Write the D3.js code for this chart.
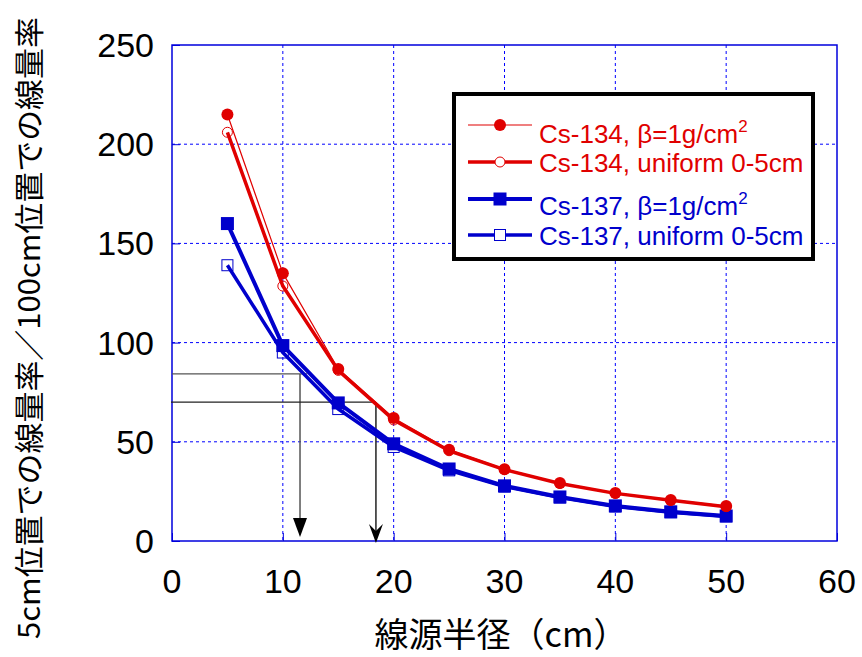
<!DOCTYPE html>
<html><head><meta charset="utf-8">
<script src="https://cdn.jsdelivr.net/npm/d3@7"></script>
<style>body{margin:0;background:#fff}svg{display:block}</style>
</head><body>
<script>
// ---- data ----
const radii = [5, 10, 15, 20, 25, 30, 35, 40, 45, 50];
const cs134Beta    = [215, 135, 86.7, 62, 46, 36.2, 29.2, 24.2, 20.7, 17.6];
const cs134Uniform = [206, 128.5, 86, 61, 45.5, 36, 29, 24, 20.5, 17.3];
const cs137Beta    = [160, 98.5, 69.6, 49, 36.3, 27.8, 22.2, 17.7, 14.7, 12.6];
const cs137Uniform = [139, 95, 66.5, 47.4, 35.6, 27.4, 21.9, 17.4, 14.5, 12.4];
const xTicks = [0, 10, 20, 30, 40, 50, 60];
const yTicks = [0, 50, 100, 150, 200, 250];
const arrowX = [11.55, 18.4];
const arrowY = [84.2, 70];        // ratio levels
const hLineEnd = [12.2, 18.4];
const legendLabels = ["Cs-134, β=1g/cm", "Cs-134, uniform 0-5cm", "Cs-137, β=1g/cm", "Cs-137, uniform 0-5cm"];

const W = 862, H = 657;
const m = {l: 172, t: 45, r: 837, b: 541};
const RED = "#e00000", BLUE = "#0000cc";

const svg = d3.select("body").append("svg").attr("width", W).attr("height", H);
const x = d3.scaleLinear().domain([0, 60]).range([m.l, m.r]);
const y = d3.scaleLinear().domain([0, 250]).range([m.b, m.t]);

// grid
const g = svg.append("g");
g.selectAll(".gx").data(xTicks.slice(1, -1)).join("line")
  .attr("x1", d => x(d)).attr("x2", d => x(d)).attr("y1", m.t).attr("y2", m.b)
  .attr("stroke", "#0000ff").attr("stroke-width", 1).attr("stroke-dasharray", "3,3");
g.selectAll(".gy").data(yTicks.slice(1, -1)).join("line")
  .attr("y1", d => y(d)).attr("y2", d => y(d)).attr("x1", m.l).attr("x2", m.r)
  .attr("stroke", "#0000ff").attr("stroke-width", 1).attr("stroke-dasharray", "3,3");
// frame
svg.append("rect").attr("x", m.l).attr("y", m.t).attr("width", m.r - m.l).attr("height", m.b - m.t)
  .attr("fill", "none").attr("stroke", "#0000dd").attr("stroke-width", 1.5);
// inward ticks
const xAxis = d3.axisBottom(x).tickValues(xTicks).tickSize(-8).tickFormat("");
const xa = svg.append("g").attr("transform", `translate(0,${m.b})`).call(xAxis);
xa.select(".domain").remove(); xa.selectAll("line").attr("stroke", "#0000dd");
const yAxis = d3.axisLeft(y).tickValues(yTicks).tickSize(-8).tickFormat("");
const ya = svg.append("g").attr("transform", `translate(${m.l},0)`).call(yAxis);
ya.select(".domain").remove(); ya.selectAll("line").attr("stroke", "#0000dd");

// tick labels
svg.selectAll(".xl").data(xTicks).join("text")
  .attr("x", d => x(d)).attr("y", 593).attr("text-anchor", "middle")
  .attr("font-family", "Liberation Sans, Arial, sans-serif").attr("font-size", 34).text(d => d);
svg.selectAll(".yl").data(yTicks).join("text")
  .attr("x", 154).attr("y", d => y(d) + 12).attr("text-anchor", "end")
  .attr("font-family", "Liberation Sans, Arial, sans-serif").attr("font-size", 34).text(d => d);

// axis titles
svg.append("text").attr("x", 501).attr("y", 647).attr("text-anchor", "middle")
  .attr("font-family", "Noto Sans CJK JP").attr("font-size", 34).text("線源半径（cm）");
svg.append("text").attr("transform", "translate(40,328) rotate(-90)").attr("text-anchor", "middle")
  .attr("font-family", "Noto Sans CJK JP").attr("font-size", 30)
  .attr("textLength", 622).attr("lengthAdjust", "spacingAndGlyphs")
  .text("5cm位置での線量率／100cm位置での線量率");

// annotation lines
const ann = svg.append("g");
arrowX.forEach((ax, i) => {
  ann.append("line").attr("x1", m.l - (i ? 1 : 0)).attr("x2", x(hLineEnd[i]))
    .attr("y1", y(arrowY[i])).attr("y2", y(arrowY[i]))
    .attr("stroke", i ? "#222" : "#555").attr("stroke-width", 1.2);
  ann.append("line").attr("x1", x(ax)).attr("x2", x(ax))
    .attr("y1", y(arrowY[i])).attr("y2", i ? y(0) - 4 : y(0) - 10)
    .attr("stroke", i ? "#222" : "#555").attr("stroke-width", 1.5);
});
// arrowheads
{
  const ax0 = x(arrowX[0]), tip0 = y(0) - 4;
  ann.append("path").attr("d", `M${ax0 - 7},${tip0 - 19}L${ax0 + 7},${tip0 - 19}L${ax0},${tip0}Z`).attr("fill", "#000");
  const ax1 = x(arrowX[1]), tip1 = y(0) + 2;
  ann.append("path").attr("d", `M${ax1 - 7},${tip1 - 19}L${ax1},${tip1 - 12}L${ax1 + 7},${tip1 - 19}L${ax1},${tip1}Z`).attr("fill", "#000");
}

// series
const line = d3.line().x((d, i) => x(radii[i])).y(d => y(d));
function drawLine(vals, color, w) {
  svg.append("path").datum(vals).attr("d", line).attr("fill", "none")
    .attr("stroke", color).attr("stroke-width", w).attr("stroke-linejoin", "round");
}
drawLine(cs137Uniform, BLUE, 3.5);
drawLine(cs137Beta, BLUE, 4);
drawLine(cs134Uniform, RED, 3.5);
drawLine(cs134Beta, RED, 1.2);

function markers(vals, type, color) {
  const gg = svg.append("g");
  vals.forEach((v, i) => drawMarker(gg, x(radii[i]), y(v), type, color, "none"));
}
function drawMarker(gg, cx, cy, type, color, bg) {
  if (type === "fc") return gg.append("circle").attr("cx", cx).attr("cy", cy).attr("r", 6).attr("fill", color);
  if (type === "oc") return gg.append("circle").attr("cx", cx).attr("cy", cy).attr("r", 5).attr("fill", bg).attr("stroke", color).attr("stroke-width", 1);
  if (type === "fs") return gg.append("rect").attr("x", cx - 6.5).attr("y", cy - 6.5).attr("width", 13).attr("height", 13).attr("fill", color);
  if (type === "os") return gg.append("rect").attr("x", cx - 5.5).attr("y", cy - 5.5).attr("width", 11).attr("height", 11).attr("fill", bg).attr("stroke", color).attr("stroke-width", 1);
}
markers(cs137Uniform, "os", BLUE);
markers(cs137Beta, "fs", BLUE);
markers(cs134Uniform, "oc", RED);
markers(cs134Beta, "fc", RED);

// legend
const lg = svg.append("g");
lg.append("rect").attr("x", 454).attr("y", 94).attr("width", 359).attr("height", 165)
  .attr("fill", "#fff").attr("stroke", "#000").attr("stroke-width", 4);
const legRows = [
  {y: 125, base: 143, color: RED, w: 1.2, type: "fc", sup: true},
  {y: 162, base: 172, color: RED, w: 3.5, type: "oc", sup: false},
  {y: 199, base: 215, color: BLUE, w: 4, type: "fs", sup: true},
  {y: 235, base: 245, color: BLUE, w: 3.5, type: "os", sup: false}
];
legRows.forEach((r, i) => {
  lg.append("line").attr("x1", 468).attr("x2", 532).attr("y1", r.y).attr("y2", r.y)
    .attr("stroke", r.color).attr("stroke-width", r.w);
  drawMarker(lg, 500, r.y, r.type, r.color, "#fff");
  const t = lg.append("text").attr("x", 539).attr("y", r.base)
    .attr("font-family", "Liberation Sans, Arial, sans-serif").attr("font-size", 26).attr("fill", r.color)
    .text(legendLabels[i]);
  if (r.sup) t.append("tspan").attr("dy", -11).attr("font-size", 17).text("2");
});
</script>
</body></html>
